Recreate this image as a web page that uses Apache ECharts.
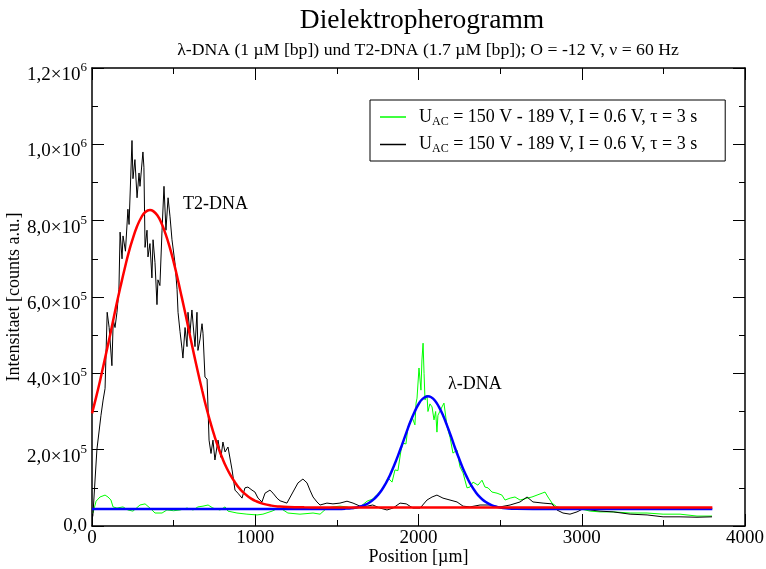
<!DOCTYPE html>
<html>
<head>
<meta charset="utf-8">
<script src="https://cdn.jsdelivr.net/npm/echarts@6/dist/echarts.min.js"></script>
<style>
  html, body { margin: 0; padding: 0; background: #fff; }
  #chart { width: 766px; height: 569px; }
</style>
</head>
<body>
<div id="chart"></div>
<script>
// Position axis (µm) and intensity axis (counts) ticks
const xTicks = [0, 1000, 2000, 3000, 4000];
const yTicks = [0, 200000, 400000, 600000, 800000, 1000000, 1200000];

// Measured trace, λ-DNA run: [position µm, counts]
const lambdaTrace = [
  [6, 3.4e4], [25, 6.5e4], [49, 7.6e4], [80, 8.1e4], [98, 7.6e4], [116, 6.8e4], [129, 5.0e4],
  [153, 4.7e4], [190, 5.0e4], [220, 4.2e4], [251, 3.9e4], [294, 5.5e4], [325, 5.8e4], [355, 4.7e4],
  [386, 3.4e4], [429, 3.4e4], [459, 4.2e4], [500, 4.0e4], [539, 4.2e4], [582, 4.7e4], [619, 4.2e4],
  [649, 5.0e4], [680, 5.2e4], [711, 5.5e4], [741, 4.7e4], [784, 4.2e4], [815, 5.0e4], [833, 3.9e4],
  [888, 3.4e4], [949, 3.1e4], [1011, 2.9e4], [1047, 3.1e4], [1103, 3.9e4], [1133, 4.5e4], [1160, 4.5e4],
  [1200, 3.4e4], [1274, 3.1e4], [1354, 3.4e4], [1397, 3.1e4], [1439, 4.7e4], [1476, 5.0e4], [1519, 5.2e4],
  [1562, 5.0e4], [1599, 4.5e4], [1642, 5.0e4], [1685, 6.5e4], [1721, 7.1e4], [1764, 9.0e4], [1795, 1.07e5],
  [1813, 1.26e5], [1838, 1.15e5], [1856, 1.47e5], [1874, 1.45e5], [1893, 1.99e5], [1905, 2.17e5],
  [1923, 2.15e5], [1936, 2.6e5], [1960, 2.86e5], [1978, 2.65e5], [1985, 3.22e5], [1991, 3.35e5],
  [1997, 3.38e5], [2003, 4.14e5], [2009, 4.1e5], [2015, 3.56e5], [2021, 4.35e5], [2028, 4.79e5],
  [2034, 4.0e5], [2040, 3.3e5], [2052, 3.43e5], [2058, 3.0e5], [2070, 3.2e5], [2083, 3.12e5],
  [2095, 2.78e5], [2105, 3.0e5], [2113, 2.46e5], [2119, 2.9e5], [2144, 3.12e5], [2156, 3.22e5],
  [2175, 2.6e5], [2193, 2.33e5], [2211, 1.91e5], [2236, 1.99e5], [2254, 1.55e5], [2273, 1.39e5],
  [2297, 1.0e5], [2315, 1.02e5], [2334, 1.15e5], [2364, 1.07e5], [2389, 1.2e5], [2407, 1.02e5],
  [2426, 1.0e5], [2450, 8.9e4], [2481, 8.6e4], [2511, 8.1e4], [2530, 6.8e4], [2561, 7.3e4],
  [2591, 7.6e4], [2622, 6.8e4], [2665, 7.3e4], [2695, 7.6e4], [2726, 8.1e4], [2757, 8.6e4],
  [2775, 8.9e4], [2793, 7.6e4], [2818, 6.0e4], [2848, 5.0e4], [2910, 4.5e4], [2989, 4.5e4],
  [3051, 3.9e4], [3112, 3.7e4], [3192, 3.7e4], [3296, 3.4e4], [3400, 3.4e4], [3498, 3.1e4],
  [3602, 3.1e4], [3706, 2.6e4], [3798, 2.6e4]
];

// Measured trace, T2-DNA run: [position µm, counts]
const t2Trace = [
  [5, 2.5e4], [30, 2.0e5], [55, 2.9e5], [68, 3.3e5], [80, 3.6e5], [93, 5.6e5], [105, 5.2e5],
  [122, 4.2e5], [130, 5.4e5], [141, 5.2e5], [153, 5.6e5], [165, 6.2e5], [172, 7.7e5], [184, 7.0e5],
  [190, 7.6e5], [205, 7.2e5], [220, 8.3e5], [227, 7.9e5], [245, 1.01e6], [251, 9.1e5], [263, 9.6e5],
  [276, 8.6e5], [288, 9.25e5], [294, 8.9e5], [312, 9.8e5], [318, 9.4e5], [325, 7.3e5], [337, 7.75e5],
  [343, 7.05e5], [355, 7.4e5], [367, 6.5e5], [374, 7.5e5], [386, 6.9e5], [398, 5.8e5], [404, 6.45e5],
  [416, 6.3e5], [429, 7.75e5], [441, 8.9e5], [453, 7.75e5], [466, 8.6e5], [478, 8.1e5], [490, 7.5e5],
  [508, 6.9e5], [521, 6.2e5], [527, 5.6e5], [539, 5.1e5], [551, 4.66e5], [557, 4.4e5], [570, 5.2e5],
  [582, 4.7e5], [588, 5.6e5], [600, 5.05e5], [612, 5.66e5], [631, 4.7e5], [643, 5.6e5], [649, 4.6e5],
  [662, 4.9e5], [674, 5.3e5], [680, 5.05e5], [692, 3.9e5], [705, 3.85e5], [717, 2.25e5], [729, 1.9e5],
  [741, 2.25e5], [753, 1.73e5], [772, 2.25e5], [790, 1.8e5], [802, 2.2e5], [815, 1.94e5], [833, 2.07e5],
  [858, 1.47e5], [876, 9.4e4], [894, 8.6e4], [919, 7.3e4], [937, 1.0e5], [955, 1.02e5], [980, 9.4e4],
  [998, 8.9e4], [1017, 7.3e4], [1041, 6.3e4], [1060, 8.6e4], [1090, 9.4e4], [1109, 8.6e4], [1133, 7.3e4],
  [1152, 6.6e4], [1194, 6.0e4], [1231, 8.9e4], [1262, 1.13e5], [1292, 1.23e5], [1317, 1.13e5],
  [1335, 9.4e4], [1354, 7.6e4], [1378, 6.3e4], [1397, 5.5e4], [1439, 6.0e4], [1476, 5.8e4],
  [1519, 6.0e4], [1562, 6.5e4], [1599, 6.0e4], [1642, 5.2e4], [1685, 5.2e4], [1720, 5.5e4],
  [1764, 4.7e4], [1807, 4.2e4], [1844, 4.7e4], [1887, 6.0e4], [1925, 5.8e4], [1966, 4.7e4],
  [2010, 4.7e4], [2052, 6.8e4], [2083, 7.6e4], [2113, 8.1e4], [2150, 7.3e4], [2193, 6.8e4],
  [2236, 6.3e4], [2273, 5.2e4], [2315, 5.0e4], [2377, 5.5e4], [2438, 5.5e4], [2499, 5.0e4],
  [2561, 5.5e4], [2622, 6.3e4], [2665, 7.6e4], [2701, 6.3e4], [2763, 6.0e4], [2818, 5.8e4],
  [2848, 4.2e4], [2885, 3.4e4], [2928, 3.1e4], [2971, 3.7e4], [3008, 4.5e4], [3051, 4.2e4],
  [3112, 3.9e4], [3192, 3.7e4], [3296, 3.1e4], [3400, 2.9e4], [3498, 2.4e4], [3602, 2.4e4],
  [3706, 2.3e4], [3798, 2.4e4]
];

// Gaussian fit of the T2-DNA peak (red)
const t2Fit = [
  [0, 2.95e5], [25, 3.37e5], [50, 3.82e5], [75, 4.30e5], [100, 4.79e5], [125, 5.29e5], [150, 5.80e5],
  [175, 6.28e5], [200, 6.74e5], [225, 7.17e5], [250, 7.53e5], [275, 7.84e5], [300, 8.07e5],
  [325, 8.22e5], [355, 8.28e5], [375, 8.25e5], [400, 8.14e5], [425, 7.94e5], [450, 7.66e5],
  [475, 7.32e5], [500, 6.92e5], [525, 6.47e5], [550, 5.99e5], [575, 5.50e5], [600, 4.99e5],
  [625, 4.49e5], [650, 4.01e5], [675, 3.55e5], [700, 3.11e5], [725, 2.72e5], [750, 2.36e5],
  [775, 2.04e5], [800, 1.76e5], [825, 1.52e5], [850, 1.32e5], [875, 1.15e5], [900, 1.00e5],
  [925, 8.86e4], [950, 7.93e4], [975, 7.18e4], [1000, 6.60e4], [1050, 5.80e4], [1100, 5.34e4],
  [1150, 5.09e4], [1200, 4.96e4], [1300, 4.88e4], [1400, 4.86e4], [1600, 4.85e4], [2000, 4.85e4],
  [3000, 4.85e4], [3800, 4.85e4]
];

// Gaussian fit of the λ-DNA peak (blue)
const lambdaFit = [
  [0, 4.45e4], [700, 4.45e4], [1400, 4.45e4], [1500, 4.48e4], [1550, 4.55e4], [1600, 4.73e4],
  [1625, 4.91e4], [1650, 5.18e4], [1675, 5.58e4], [1700, 6.17e4], [1725, 6.96e4], [1750, 8.05e4],
  [1775, 9.44e4], [1800, 1.12e5], [1825, 1.33e5], [1850, 1.58e5], [1875, 1.85e5], [1900, 2.14e5],
  [1925, 2.44e5], [1950, 2.73e5], [1975, 2.98e5], [2000, 3.19e5], [2025, 3.33e5], [2058, 3.40e5],
  [2075, 3.38e5], [2100, 3.29e5], [2125, 3.12e5], [2150, 2.90e5], [2175, 2.63e5], [2200, 2.34e5],
  [2225, 2.03e5], [2250, 1.75e5], [2275, 1.48e5], [2300, 1.25e5], [2325, 1.05e5], [2350, 8.9e4],
  [2375, 7.62e4], [2400, 6.65e4], [2450, 5.42e4], [2500, 4.84e4], [2550, 4.59e4], [2600, 4.49e4],
  [2700, 4.45e4], [3200, 4.45e4], [3800, 4.45e4]
];

// Peak annotations: [text, position µm, counts]
const peakLabels = [
  ['T2-DNA', 557, 8.42e5],
  ['λ-DNA', 2181, 3.72e5]
];

const legendText = '{p|}{u|U}{s|AC}{u| = 150 V - 189 V, I = 0.6 V, τ = 3 s}';

const FONT = '"Liberation Serif", "Times New Roman", serif';

const chart = echarts.init(document.getElementById('chart'), null, { renderer: 'canvas' });

// "2,0×10⁵"-style tick text; mantissa sits a little below the tick, exponent level with it
function yLabel(v) {
  if (v === 0) return '{z|0,0}';
  const e = Math.floor(Math.log10(v) + 1e-9);
  const m = (v / Math.pow(10, e)).toFixed(1).replace('.', ',');
  return '{m|' + m + '×10}{e|' + e + '}';
}

const axisCommon = {
  type: 'value',
  axisLine: { show: true, onZero: false, lineStyle: { color: '#000', width: 1.5 } },
  axisTick: { show: true, inside: true, length: 12, lineStyle: { color: '#000', width: 1 } },
  minorTick: { show: true, splitNumber: 2, length: 6, lineStyle: { color: '#000', width: 1 } },
  splitLine: { show: false },
  minorSplitLine: { show: false }
};

chart.setOption({
  animation: false,
  backgroundColor: '#fff',
  title: [
    {
      text: 'Dielektropherogramm',
      left: 417, top: 2, textAlign: 'center',
      textStyle: { fontFamily: FONT, fontSize: 27.5, fontWeight: 'normal', color: '#000' }
    },
    {
      text: 'λ-DNA (1 µM [bp]) und T2-DNA (1.7 µM [bp]); O = -12 V, ν = 60 Hz',
      left: 423, top: 36, textAlign: 'center',
      textStyle: { fontFamily: FONT, fontSize: 17.7, fontWeight: 'normal', color: '#000' }
    }
  ],
  grid: { left: 92, right: 21, top: 68, bottom: 43, containLabel: false, outerBoundsMode: 'none' },
  legend: {
    data: ['λ-DNA', 'T2-DNA'],
    orient: 'vertical',
    left: 370, top: 100,
    backgroundColor: '#fff',
    borderColor: '#000', borderWidth: 1, borderRadius: 0,
    padding: [8, 28, 6, 10],
    itemGap: 8,
    itemWidth: 26, itemHeight: 1.5,
    icon: 'rect',
    formatter: () => legendText,
    textStyle: {
      fontFamily: FONT, color: '#000',
      rich: {
        p: { width: 8 },
        u: { fontFamily: FONT, fontSize: 18, color: '#000', lineHeight: 20 },
        s: { fontFamily: FONT, fontSize: 12, color: '#000', padding: [9, 0, 0, 0] }
      }
    }
  },
  xAxis: [
    Object.assign({}, axisCommon, {
      min: 0, max: 4000, interval: 1000, position: 'bottom',
      axisLabel: {
        fontFamily: FONT, fontSize: 19, color: '#000', margin: 3,
        formatter: v => (xTicks.indexOf(v) >= 0 ? String(v) : '')
      },
      name: 'Position [µm]', nameLocation: 'middle', nameGap: 22, nameMoveOverlap: false,
      nameTextStyle: { fontFamily: FONT, fontSize: 18, color: '#000' }
    }),
    Object.assign({}, axisCommon, {
      min: 0, max: 4000, interval: 1000, position: 'top',
      axisLabel: { show: false }
    })
  ],
  yAxis: [
    Object.assign({}, axisCommon, {
      min: 0, max: 1200000, interval: 200000, position: 'left',
      axisLabel: {
        margin: 5,
        formatter: v => (yTicks.indexOf(v) >= 0 ? yLabel(v) : ''),
        rich: {
          z: { fontFamily: FONT, fontSize: 19, color: '#000' },
          m: { fontFamily: FONT, fontSize: 19, color: '#000', padding: [14, 0, 0, 0] },
          e: { fontFamily: FONT, fontSize: 13, color: '#000', padding: [0, 0, 1, 0] }
        }
      },
      name: 'Intensitaet [counts a.u.]', nameLocation: 'middle', nameGap: 69, nameMoveOverlap: false,
      nameTextStyle: { fontFamily: FONT, fontSize: 18, color: '#000' }
    }),
    Object.assign({}, axisCommon, {
      min: 0, max: 1200000, interval: 200000, position: 'right',
      axisLabel: { show: false }
    })
  ],
  series: [
    {
      name: 'λ-DNA', type: 'line', data: lambdaTrace, showSymbol: false, symbol: 'none',
      lineStyle: { color: '#00ff00', width: 1 }, itemStyle: { color: '#00ff00' }, z: 2
    },
    {
      name: 'T2-DNA', type: 'line', data: t2Trace, showSymbol: false, symbol: 'none',
      lineStyle: { color: '#000', width: 1 }, itemStyle: { color: '#000' }, z: 3
    },
    {
      name: 'λ-DNA Fit', type: 'line', data: lambdaFit, showSymbol: false, symbol: 'none',
      smooth: true,
      lineStyle: { color: '#0000ff', width: 2.5 }, z: 4
    },
    {
      name: 'T2-DNA Fit', type: 'line', data: t2Fit, showSymbol: false, symbol: 'none',
      smooth: true,
      lineStyle: { color: '#ff0000', width: 2.5 }, z: 5
    }
  ]
});

// Peak names placed in data coordinates
chart.setOption({
  graphic: peakLabels.map(([txt, x, y]) => {
    const p = chart.convertToPixel({ xAxisIndex: 0, yAxisIndex: 0 }, [x, y]);
    return {
      type: 'text', x: p[0], y: p[1], z: 10,
      style: { text: txt, font: '18px ' + FONT, fill: '#000', textVerticalAlign: 'middle' }
    };
  })
});
</script>
</body>
</html>
